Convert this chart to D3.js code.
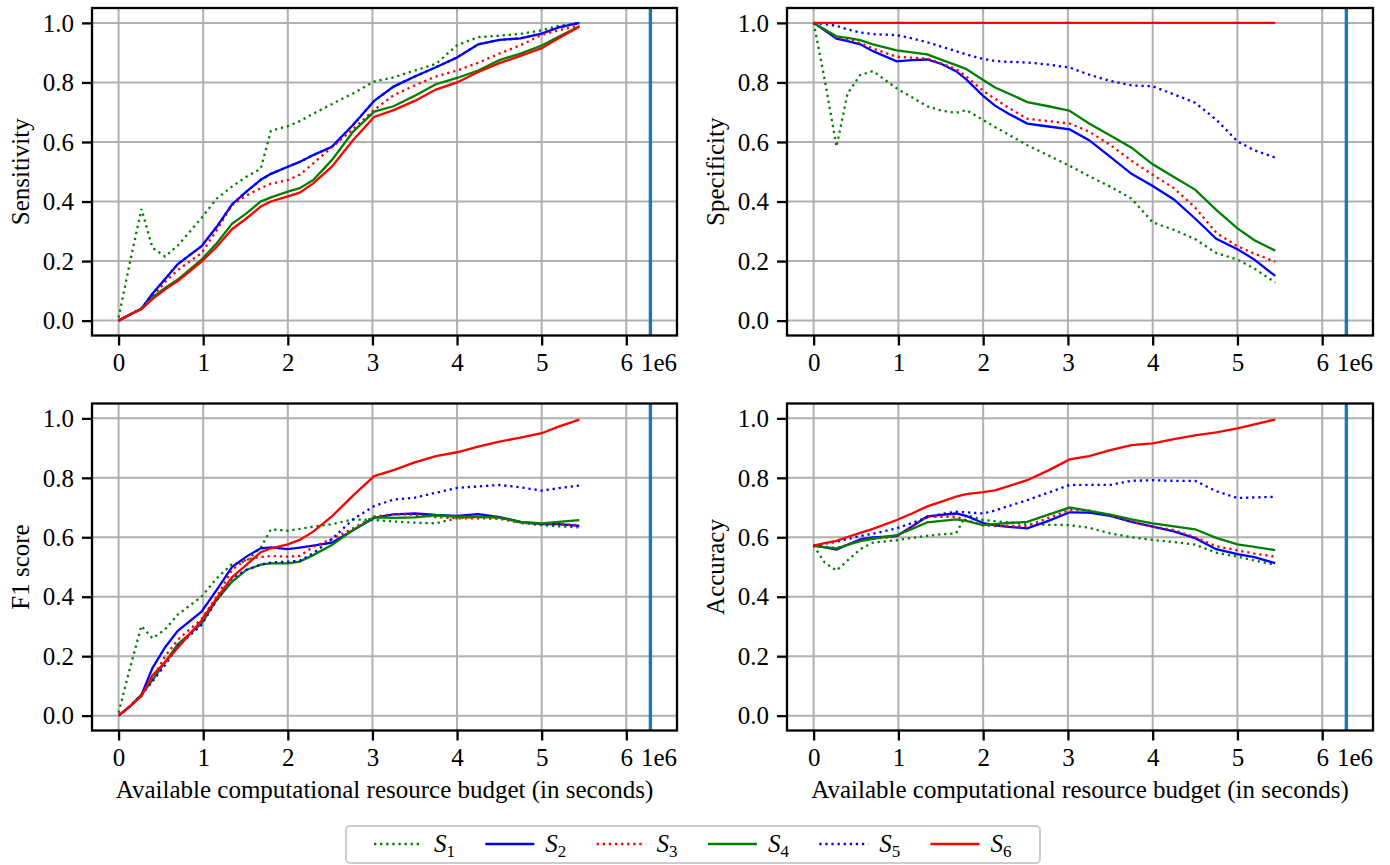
<!DOCTYPE html>
<html>
<head>
<meta charset="utf-8">
<script src="https://cdn.jsdelivr.net/npm/d3@7"></script>
<style>
  body { margin: 0; background: #fff; }
  text { font-family: "Liberation Serif", "Times New Roman", serif; }
</style>
</head>
<body>
<svg id="chart" width="1390" height="865"></svg>
<script>
// budget axis values, in units of 1e6 seconds
const budget = [0, 0.13, 0.27, 0.4, 0.55, 0.7, 0.98, 1.16, 1.34, 1.51, 1.68, 1.8, 2.0, 2.14,
                2.3, 2.52, 2.77, 3.02, 3.25, 3.5, 3.75, 4.0, 4.25, 4.5, 4.75, 5.0, 5.2, 5.445];
const budgetLimit = 6.285;   // vertical marker

const seriesLabels = ["1", "2", "3", "4", "5", "6"];   // S_1 ... S_6
const xTicks = [0, 1, 2, 3, 4, 5, 6];
const yTicks = [0, 0.2, 0.4, 0.6, 0.8, 1.0];

// one row per series S1..S6
const sensitivity = [
  [0.01, 0.19, 0.375, 0.245, 0.215, 0.252, 0.345, 0.41, 0.45, 0.483, 0.51, 0.638, 0.653, 0.67, 0.695, 0.727, 0.763, 0.803, 0.817, 0.84, 0.862, 0.925, 0.952, 0.957, 0.963, 0.975, 0.99, 0.998],
  [0, 0.02, 0.04, 0.09, 0.14, 0.19, 0.25, 0.315, 0.39, 0.433, 0.473, 0.493, 0.517, 0.533, 0.556, 0.584, 0.657, 0.738, 0.786, 0.82, 0.851, 0.884, 0.928, 0.943, 0.948, 0.964, 0.985, 1.0],
  [0, 0.02, 0.04, 0.08, 0.13, 0.17, 0.227, 0.304, 0.388, 0.42, 0.445, 0.46, 0.472, 0.49, 0.528, 0.582, 0.643, 0.708, 0.757, 0.79, 0.82, 0.84, 0.866, 0.897, 0.925, 0.96, 0.975, 0.992],
  [0, 0.02, 0.041, 0.078, 0.11, 0.138, 0.205, 0.26, 0.325, 0.36, 0.4, 0.414, 0.433, 0.445, 0.472, 0.539, 0.634, 0.702, 0.72, 0.755, 0.794, 0.815, 0.84, 0.875, 0.897, 0.924, 0.953, 0.989],
  [0, 0.02, 0.04, 0.09, 0.14, 0.19, 0.25, 0.315, 0.39, 0.433, 0.473, 0.493, 0.517, 0.533, 0.556, 0.584, 0.657, 0.738, 0.786, 0.82, 0.851, 0.884, 0.928, 0.943, 0.948, 0.964, 0.985, 1.0],
  [0, 0.02, 0.038, 0.072, 0.105, 0.133, 0.198, 0.248, 0.307, 0.343, 0.383, 0.4, 0.417, 0.43, 0.461, 0.517, 0.606, 0.684, 0.707, 0.738, 0.776, 0.80, 0.835, 0.865, 0.889, 0.915, 0.948, 0.987]
];

const specificity = [
  [1.0, 0.81, 0.584, 0.763, 0.825, 0.838, 0.78, 0.75, 0.72, 0.705, 0.698, 0.707, 0.674, 0.65, 0.625, 0.589, 0.555, 0.52, 0.485, 0.45, 0.41, 0.33, 0.305, 0.274, 0.227, 0.205, 0.175, 0.128],
  [1.0, 0.975, 0.947, 0.939, 0.928, 0.905, 0.871, 0.875, 0.877, 0.862, 0.838, 0.81, 0.755, 0.722, 0.695, 0.662, 0.652, 0.642, 0.606, 0.55, 0.493, 0.452, 0.407, 0.343, 0.275, 0.24, 0.205, 0.15],
  [1.0, 0.977, 0.951, 0.944, 0.932, 0.914, 0.886, 0.883, 0.88, 0.863, 0.845, 0.82, 0.772, 0.745, 0.715, 0.678, 0.67, 0.662, 0.635, 0.59, 0.537, 0.49, 0.445, 0.38, 0.295, 0.25, 0.225, 0.198],
  [1.0, 0.978, 0.955, 0.95, 0.942, 0.928, 0.908, 0.901, 0.894, 0.876, 0.858, 0.845, 0.808, 0.783, 0.763, 0.734, 0.72, 0.705, 0.662, 0.622, 0.581, 0.525, 0.482, 0.44, 0.372, 0.31, 0.27, 0.235],
  [1.0, 0.996, 0.99, 0.978, 0.968, 0.962, 0.959, 0.948, 0.935, 0.92, 0.905, 0.894, 0.879, 0.872, 0.869, 0.867, 0.86, 0.85, 0.826, 0.805, 0.79, 0.787, 0.76, 0.732, 0.675, 0.602, 0.572, 0.548],
  [1.0, 1.0, 1.0, 1.0, 1.0, 1.0, 1.0, 1.0, 1.0, 1.0, 1.0, 1.0, 1.0, 1.0, 1.0, 1.0, 1.0, 1.0, 1.0, 1.0, 1.0, 1.0, 1.0, 1.0, 1.0, 1.0, 1.0, 1.0]
];

const f1score = [
  [0.01, 0.155, 0.302, 0.26, 0.29, 0.34, 0.4, 0.462, 0.51, 0.52, 0.565, 0.627, 0.622, 0.628, 0.636, 0.644, 0.66, 0.658, 0.653, 0.649, 0.647, 0.664, 0.668, 0.668, 0.648, 0.641, 0.637, 0.633],
  [0, 0.03, 0.07, 0.16, 0.23, 0.285, 0.35, 0.423, 0.5, 0.535, 0.563, 0.566, 0.56, 0.565, 0.572, 0.582, 0.624, 0.665, 0.677, 0.68, 0.675, 0.672, 0.678, 0.668, 0.652, 0.644, 0.644, 0.638],
  [0, 0.03, 0.07, 0.125, 0.2, 0.255, 0.325, 0.4, 0.49, 0.526, 0.534, 0.537, 0.535, 0.537, 0.568, 0.594, 0.63, 0.67, 0.678, 0.676, 0.668, 0.664, 0.664, 0.662, 0.649, 0.644, 0.644, 0.641],
  [0, 0.03, 0.07, 0.12, 0.18, 0.24, 0.31, 0.389, 0.45, 0.49, 0.508, 0.512, 0.512, 0.518, 0.54, 0.574, 0.624, 0.667, 0.665, 0.667, 0.674, 0.669, 0.669, 0.666, 0.652, 0.647, 0.652, 0.658],
  [0, 0.03, 0.07, 0.115, 0.17, 0.235, 0.305, 0.389, 0.462, 0.49, 0.508, 0.515, 0.518, 0.521, 0.546, 0.594, 0.66, 0.705, 0.727, 0.733, 0.75, 0.766, 0.771, 0.776, 0.768, 0.757, 0.765, 0.774],
  [0, 0.03, 0.065, 0.135, 0.18, 0.228, 0.32, 0.395, 0.465, 0.507, 0.55, 0.563, 0.576, 0.591, 0.619, 0.67, 0.74, 0.806, 0.826, 0.852, 0.873, 0.886, 0.905, 0.922, 0.935, 0.95, 0.972, 0.996]
];

const accuracy = [
  [0.572, 0.515, 0.488, 0.522, 0.56, 0.582, 0.59, 0.598, 0.605, 0.61, 0.613, 0.675, 0.658, 0.654, 0.65, 0.645, 0.642, 0.641, 0.632, 0.613, 0.6, 0.591, 0.584, 0.575, 0.548, 0.535, 0.522, 0.507],
  [0.572, 0.566, 0.559, 0.575, 0.593, 0.6, 0.604, 0.636, 0.67, 0.675, 0.68, 0.672, 0.648, 0.64, 0.635, 0.63, 0.655, 0.684, 0.683, 0.672, 0.652, 0.636, 0.62, 0.597, 0.56, 0.543, 0.533, 0.513],
  [0.572, 0.568, 0.563, 0.575, 0.59, 0.595, 0.602, 0.636, 0.669, 0.669, 0.669, 0.658, 0.64, 0.638, 0.638, 0.638, 0.665, 0.692, 0.69, 0.675, 0.652, 0.636, 0.624, 0.6, 0.57, 0.556, 0.545, 0.535],
  [0.572, 0.567, 0.563, 0.574, 0.587, 0.595, 0.607, 0.628, 0.65, 0.655, 0.66, 0.655, 0.641, 0.644, 0.648, 0.652, 0.676, 0.70, 0.689, 0.676, 0.66, 0.647, 0.637, 0.627, 0.598, 0.576, 0.568, 0.557],
  [0.572, 0.578, 0.585, 0.594, 0.604, 0.612, 0.63, 0.648, 0.667, 0.678, 0.686, 0.684, 0.68, 0.69, 0.705, 0.725, 0.75, 0.776, 0.776, 0.776, 0.79, 0.792, 0.79, 0.79, 0.755, 0.732, 0.734, 0.736],
  [0.572, 0.58, 0.588, 0.601, 0.615, 0.628, 0.658, 0.68, 0.704, 0.72, 0.737, 0.745, 0.752, 0.758, 0.772, 0.792, 0.825, 0.862, 0.873, 0.893, 0.91, 0.916, 0.93, 0.943, 0.953, 0.966, 0.98, 0.996]
];

// line styles per series (colour, dotted?)
const styles = [
  { color: "green", dotted: true },
  { color: "blue",  dotted: false },
  { color: "red",   dotted: true },
  { color: "green", dotted: false },
  { color: "blue",  dotted: true },
  { color: "red",   dotted: false }
];

const FS = 25;          // font size
const LW = 2.3;         // data line width
const DOTS = "2.3,3.8";

const svg = d3.select("#chart");

const panels = [
  { data: sensitivity, ylabel: "Sensitivity", x0: 92,  x1: 677,  y0: 8,     y1: 335.5, xlabel: false },
  { data: specificity, ylabel: "Specificity", x0: 787, x1: 1373, y0: 8,     y1: 335.5, xlabel: false },
  { data: f1score,     ylabel: "F1 score",    x0: 92,  x1: 677,  y0: 403.5, y1: 730.5, xlabel: true },
  { data: accuracy,    ylabel: "Accuracy",    x0: 787, x1: 1373, y0: 403.5, y1: 730.5, xlabel: true }
];

panels.forEach(p => {
  const x = d3.scaleLinear().domain([-0.05 * budgetLimit, budgetLimit * 1.05]).range([p.x0, p.x1]);
  const y = d3.scaleLinear().domain([-0.05, 1.05]).range([p.y1, p.y0]);
  const g = svg.append("g");

  // grid
  g.selectAll(".gx").data(xTicks).join("line")
    .attr("x1", d => x(d)).attr("x2", d => x(d))
    .attr("y1", p.y0).attr("y2", p.y1)
    .attr("stroke", "#b0b0b0").attr("stroke-width", 2);
  g.selectAll(".gy").data(yTicks).join("line")
    .attr("x1", p.x0).attr("x2", p.x1)
    .attr("y1", d => y(d)).attr("y2", d => y(d))
    .attr("stroke", "#b0b0b0").attr("stroke-width", 2);

  // series
  const line = d3.line().x((d, i) => x(budget[i])).y(d => y(d));
  p.data.forEach((vals, s) => {
    g.append("path")
      .attr("d", line(vals))
      .attr("fill", "none")
      .attr("stroke", styles[s].color)
      .attr("stroke-width", LW)
      .attr("stroke-dasharray", styles[s].dotted ? DOTS : null);
  });

  // budget marker
  g.append("line")
    .attr("x1", x(budgetLimit)).attr("x2", x(budgetLimit))
    .attr("y1", p.y0).attr("y2", p.y1)
    .attr("stroke", "#1f77b4").attr("stroke-width", 3.4);

  // axes
  const ax = g.append("g").attr("transform", `translate(0,${p.y1})`)
    .call(d3.axisBottom(x).tickValues(xTicks).tickFormat(d3.format("d")).tickSize(10).tickPadding(8));
  const ay = g.append("g").attr("transform", `translate(${p.x0},0)`)
    .call(d3.axisLeft(y).tickValues(yTicks).tickFormat(d3.format(".1f")).tickSize(10).tickPadding(8));
  [ax, ay].forEach(a => {
    a.select(".domain").remove();
    a.selectAll(".tick line").attr("stroke", "#000").attr("stroke-width", 2.3);
    a.selectAll(".tick text").attr("fill", "#000").style("font-size", FS + "px")
      .style("font-family", '"Liberation Serif", serif');
  });
  ay.selectAll(".tick text").attr("dy", "0.33em");

  // frame
  g.append("rect")
    .attr("x", p.x0).attr("y", p.y0)
    .attr("width", p.x1 - p.x0).attr("height", p.y1 - p.y0)
    .attr("fill", "none").attr("stroke", "#000").attr("stroke-width", 2.3);

  // offset text
  g.append("text")
    .attr("x", p.x1).attr("y", p.y1 + 35)
    .attr("text-anchor", "end").style("font-size", FS + "px")
    .text("1e6");

  // y label
  g.append("text")
    .attr("transform", `translate(${p.x0 - 63},${(p.y0 + p.y1) / 2}) rotate(-90)`)
    .attr("text-anchor", "middle").style("font-size", FS + "px")
    .text(p.ylabel);

  if (p.xlabel) {
    g.append("text")
      .attr("x", (p.x0 + p.x1) / 2).attr("y", p.y1 + 67)
      .attr("text-anchor", "middle").style("font-size", FS + "px")
      .text("Available computational resource budget (in seconds)");
  }
});

// legend
const leg = svg.append("g");
leg.append("rect")
  .attr("x", 346).attr("y", 826).attr("width", 694).attr("height", 37).attr("rx", 4)
  .attr("fill", "#fff").attr("fill-opacity", 0.8)
  .attr("stroke", "#cccccc").attr("stroke-width", 2);

const item = leg.selectAll(".item").data(seriesLabels).join("g")
  .attr("transform", (d, i) => `translate(${374 + i * 111.3},844)`);
item.append("line")
  .attr("x1", 0).attr("x2", 49).attr("y1", 0).attr("y2", 0)
  .attr("stroke", (d, i) => styles[i].color)
  .attr("stroke-width", LW)
  .attr("stroke-dasharray", (d, i) => styles[i].dotted ? DOTS : null);
const lt = item.append("text").attr("x", 60).attr("y", 8).style("font-size", FS + "px");
lt.append("tspan").style("font-style", "italic").text("S");
lt.append("tspan").attr("dy", 5).style("font-size", "17px").text(d => d);
</script>
</body>
</html>
